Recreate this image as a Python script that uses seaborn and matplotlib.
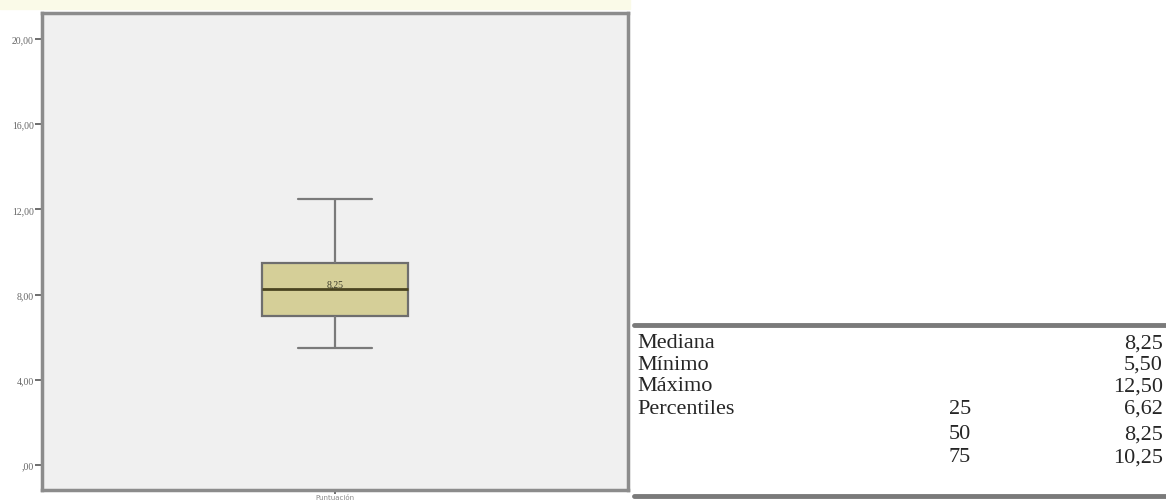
import numpy as np
import pandas as pd
import seaborn as sns
import matplotlib.pyplot as plt

# valores del diagrama de caja
puntos = [5.50, 7.00, 8.25, 9.50, 12.50]
mediana = 8.25
yticks = [0, 4, 8, 12, 16, 20]
ytick_labels = [",00", "4,00", "8,00", "12,00", "16,00", "20,00"]
x_label = "Puntuación"

# tabla de estadisticos
filas = ["Mediana", "Mínimo", "Máximo", "Percentiles", "", ""]
percentil = ["", "", "", "25", "50", "75"]
valores = ["8,25", "5,50", "12,50", "6,62", "8,25", "10,25"]

df = pd.DataFrame({"var": [x_label] * len(puntos), "valor": puntos})

sns.set_style("white")
fig = plt.figure(figsize=(11.66, 5.02), dpi=100)
W, H = 1166, 502

# franja crema arriba
fig.patches.append(plt.Rectangle((0, 1 - 10 / H), 630 / W, 10 / H,
                                 transform=fig.transFigure, color="#fafae8", zorder=0))

ax = fig.add_axes([42 / W, 11 / H, 586 / W, 477 / H])
ax.set_facecolor("#f0f0f0")
sns.boxplot(data=df, x="var", y="valor", ax=ax, width=0.25, color="#d5cf98",
            saturation=1, linecolor="#6e6e6e", linewidth=1.6,
            medianprops=dict(color="#4a4420", linewidth=2),
            whiskerprops=dict(color="#7a7a7a", linewidth=1.6),
            capprops=dict(color="#7a7a7a", linewidth=1.6))
ax.text(0, mediana + 0.05, "8,25", ha="center", va="bottom", fontsize=7,
        color="#3a3a2a", family="Liberation Serif")

ax.set_ylim(-1.17, 21.22)
ax.set_xlim(-0.5, 0.5)
ax.set_yticks(yticks)
ax.set_yticklabels(ytick_labels, fontsize=7, color="#666666", family="Liberation Serif")
ax.set_xticks([0])
ax.set_xticklabels([x_label], fontsize=5, color="#888888")
ax.tick_params(axis="y", direction="out", length=5, width=1.2, color="#555555",
               left=True, pad=1)
ax.tick_params(axis="x", direction="out", length=3, width=1.2, color="#555555",
               bottom=True, pad=0)
ax.set_xlabel("")
ax.set_ylabel("")
for s in ax.spines.values():
    s.set_color("#8c8c8c")
    s.set_linewidth(2.5)

# tabla
fig.add_artist(plt.Line2D([634 / W, 1], [1 - 326 / H] * 2, color="#7a7a7a", lw=3.5))
fig.add_artist(plt.Line2D([634 / W, 1], [1 - 497 / H] * 2, color="#7a7a7a", lw=3.5))
ys = [344, 365, 387, 409, 435, 458]
for i in range(len(filas)):
    y = 1 - ys[i] / H
    fig.text(637 / W, y, filas[i], ha="left", va="center", fontsize=16,
             family="Liberation Serif")
    fig.text(960 / W, y, percentil[i], ha="center", va="center", fontsize=16,
             family="Liberation Serif")
    fig.text(1163 / W, y, valores[i], ha="right", va="center", fontsize=16,
             family="Liberation Serif")

fig.savefig("out.png", dpi=100)
